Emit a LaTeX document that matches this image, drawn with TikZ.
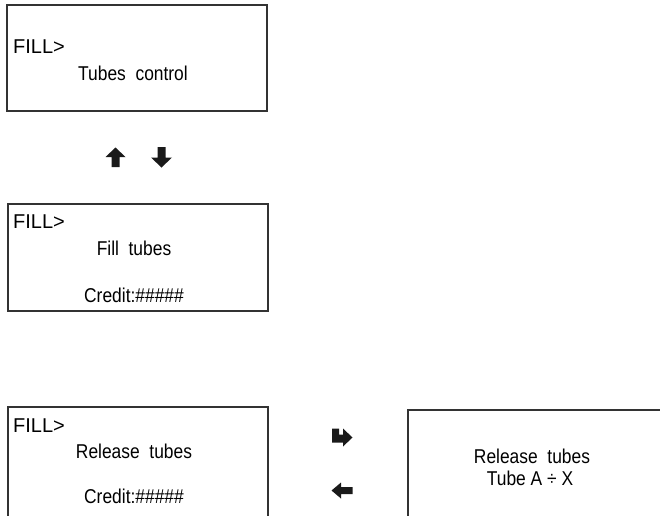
\documentclass[tikz,border=0pt]{standalone}
\usepackage{fontspec}
\setmainfont{Liberation Sans}
\newfontfamily\condfont[FakeStretch=0.87]{Liberation Sans}
\definecolor{boxline}{HTML}{333333}
\definecolor{arrowfill}{HTML}{1A1A1A}
\tikzset{
  panel/.style={draw=boxline, line width=1.3pt},
  prompt/.style={anchor=base west, inner sep=0pt, font=\fontsize{20}{24}\selectfont},
  msg/.style={anchor=base, inner sep=0pt, font=\condfont\fontsize{20}{24}\selectfont},
  keyarrow/.style={fill=arrowfill, draw=none}
}
\begin{document}
\begin{tikzpicture}[x=1pt, y=-1pt]
\useasboundingbox (0,0) rectangle (660,515);
% Panel 1
\draw[panel] (7,5) rectangle (267,111);
\node[prompt] (p1) at (13,53) {FILL>};
\node[msg] (m1) at (133,80) {Tubes~~control};
% up / down keys
\fill[keyarrow] (115.5,147.5) -- (125.5,157) -- (119.5,157) -- (119.5,167) -- (111.5,167) -- (111.5,157) -- (105.5,157) -- cycle;
\fill[keyarrow] (161.5,167.5) -- (172,157.5) -- (165.5,157.5) -- (165.5,147) -- (157.5,147) -- (157.5,157.5) -- (151,157.5) -- cycle;
% Panel 2
\draw[panel] (8,204) rectangle (268,311);
\node[prompt] (p2) at (13,228) {FILL>};
\node[msg] (m2) at (134,255) {Fill~~tubes};
\node[msg] (c2) at (134,302) {Credit:\#\#\#\#\#};
% Panel 3 (cut by the picture's lower edge)
\draw[panel] (8,516) -- (8,407) -- (268,407) -- (268,516);
\node[prompt] (p3) at (13,432) {FILL>};
\node[msg] (m3) at (134,458) {Release~~tubes};
\node[msg] (c3) at (134,503) {Credit:\#\#\#\#\#};
% enter / back keys
\fill[keyarrow] (332,428.5) -- (339,428.5) -- (339,434.5) -- (343,434.5) -- (343,428.5) -- (352.5,437.5) -- (343,446.5) -- (343,442.5) -- (332,442.5) -- cycle;
\fill[keyarrow] (331.5,490.5) -- (341,482.5) -- (341,487) -- (352.5,487) -- (352.5,494) -- (341,494) -- (341,498.5) -- cycle;
% Panel 4 (cut by the picture's edges)
\draw[panel] (408,516) -- (408,410) -- (661,410);
\node[msg] (m4) at (532,463) {Release~~tubes};
\node[msg] (t4) at (530,485) {Tube A \char"00F7{} X};
\end{tikzpicture}
\end{document}
